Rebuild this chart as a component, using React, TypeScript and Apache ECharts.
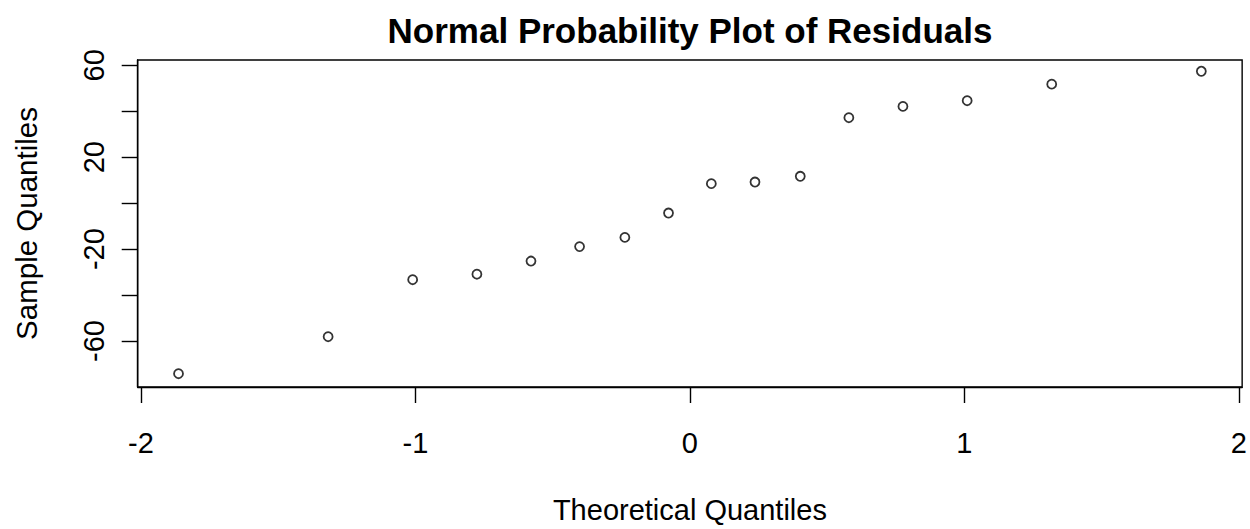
import React, { useEffect, useRef } from "react";
import * as echarts from "echarts";

// Theoretical normal quantiles (x) and sorted residuals (y)
const theoreticalQuantiles = [
  -1.863, -1.318, -1.01, -0.776, -0.579, -0.402, -0.237, -0.078,
  0.078, 0.237, 0.402, 0.579, 0.776, 1.01, 1.318, 1.863,
];
const sampleQuantiles = [
  -74.2, -58.1, -33.3, -30.9, -25.2, -18.9, -14.9, -4.3,
  8.5, 9.2, 11.7, 37.2, 42.1, 44.6, 51.8, 57.4,
];
const xTicks = [-2, -1, 0, 1, 2];
const yTicks = [-60, -40, -20, 0, 20, 40, 60];
const yLabels = [-60, -20, 20, 60];

const FONT = "Liberation Sans, Arial, Helvetica, sans-serif";

export default function App() {
  const ref = useRef<HTMLDivElement>(null);

  useEffect(() => {
    if (!ref.current) return;
    const chart = echarts.init(ref.current, null, { renderer: "svg" });
    const points = theoreticalQuantiles.map((x, i) => [x, sampleQuantiles[i]]);

    chart.setOption({
      animation: false,
      backgroundColor: "#ffffff",
      grid: {
        left: 137.7,
        right: 7.3,
        top: 60,
        bottom: 140,
        show: true,
        borderColor: "#000000",
        borderWidth: 1.4,
        backgroundColor: "transparent",
      },
      graphic: [
        {
          type: "text",
          x: 690,
          y: 30,
          style: {
            text: "Normal Probability Plot of Residuals",
            font: `bold 35px ${FONT}`,
            fill: "#000000",
            textAlign: "center",
            textVerticalAlign: "middle",
          },
        },
      ],
      xAxis: {
        type: "value",
        min: -2.0117,
        max: 2.0117,
        name: "Theoretical Quantiles",
        nameLocation: "middle",
        nameGap: 108,
        nameTextStyle: { fontFamily: FONT, fontSize: 29, color: "#000000" },
        splitLine: { show: false },
        axisLine: { show: true, onZero: false, lineStyle: { color: "#000000", width: 1.4 } },
        axisTick: {
          show: true,
          inside: false,
          length: 16,
          customValues: xTicks,
          lineStyle: { color: "#000000", width: 1.4 },
        },
        axisLabel: {
          show: true,
          customValues: xTicks,
          margin: 41,
          fontFamily: FONT,
          fontSize: 29,
          color: "#000000",
          verticalAlign: "top",
          formatter: (v: number) => String(v),
        },
      },
      yAxis: {
        type: "value",
        min: -80,
        max: 62.3,
        name: "Sample Quantiles",
        nameLocation: "middle",
        nameGap: 96,
        nameRotate: 90,
        nameTextStyle: { fontFamily: FONT, fontSize: 29.5, color: "#000000" },
        splitLine: { show: false },
        axisLine: { show: true, onZero: false, lineStyle: { color: "#000000", width: 1.4 } },
        axisTick: {
          show: true,
          inside: false,
          length: 16,
          customValues: yTicks,
          lineStyle: { color: "#000000", width: 1.4 },
        },
        axisLabel: {
          show: true,
          customValues: yLabels,
          rotate: 90,
          margin: 29,
          align: "center",
          verticalAlign: "bottom",
          fontFamily: FONT,
          fontSize: 29,
          color: "#000000",
          formatter: (v: number) => String(v),
        },
      },
      series: [
        {
          type: "scatter",
          data: points,
          symbol: "circle",
          symbolSize: 9,
          itemStyle: {
            color: "rgba(0,0,0,0)",
            borderColor: "#000000",
            borderWidth: 1.8,
          },
        },
      ],
    });

    return () => chart.dispose();
  }, []);

  return (
    <div
      ref={ref}
      style={{ position: "fixed", left: 0, top: 0, width: 1250, height: 529, background: "#ffffff" }}
    />
  );
}
